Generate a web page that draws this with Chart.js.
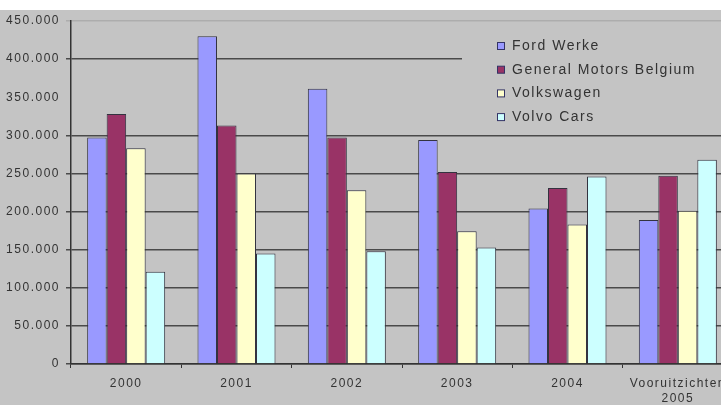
<!DOCTYPE html>
<html>
<head>
<meta charset="utf-8">
<script src="https://cdn.jsdelivr.net/npm/chart.js@4/dist/chart.umd.min.js"></script>
<style>
  html, body { margin: 0; padding: 0; background: #ffffff; overflow: hidden; }
  #wrap { width: 721px; height: 405px; overflow: hidden; position: relative; }
  canvas { display: block; }
</style>
</head>
<body>
<div id="wrap"><canvas id="c" width="736" height="405"></canvas></div>
<script>
// ---- data ----
const categories = ['2000', '2001', '2002', '2003', '2004', ['Vooruitzichten', '2005']];
const seriesNames = ['Ford Werke', 'General Motors Belgium', 'Volkswagen', 'Volvo Cars'];
const fordWerke = [297000, 430000, 361000, 294000, 204000, 189000];
const generalMotors = [328000, 313000, 297000, 252000, 231000, 247000];
const volkswagen = [283000, 250000, 228000, 174000, 183000, 201000];
const volvoCars = [121000, 145000, 148000, 153000, 246000, 268000];
const yTicks = [0, 50000, 100000, 150000, 200000, 250000, 300000, 350000, 400000, 450000];

// ---- styles ----
const colors = ['#9999ff', '#993366', '#ffffcc', '#ccffff'];
const BG = '#c4c4c4';
const TXT = '#333333';
const FONT = "'Liberation Sans', Arial, sans-serif";

function fmt(v) {
  return String(v).replace(/\B(?=(\d{3})+(?!\d))/g, '.');
}

const bgPlugin = {
  id: 'bgPlugin',
  beforeInit(chart) { chart.ctx.letterSpacing = '1.5px'; },
  beforeDraw(chart) {
    const ctx = chart.ctx;
    ctx.save();
    ctx.fillStyle = '#ffffff';
    ctx.fillRect(0, 0, chart.width, chart.height);
    ctx.fillStyle = BG;
    ctx.fillRect(0, 10, chart.width, chart.height - 10);
    ctx.restore();
    ctx.letterSpacing = '1.5px';
  }
};

const legendBox = {
  id: 'legendBox',
  beforeDatasetsDraw(chart) {
    const ctx = chart.ctx;
    const ca = chart.chartArea;
    ctx.save();
    ctx.fillStyle = BG;
    ctx.fillRect(462, ca.top + 1, chart.width - 462, 110);
    ctx.font = '14px ' + FONT;
    ctx.letterSpacing = '1.5px';
    ctx.textBaseline = 'middle';
    ctx.textAlign = 'left';
    chart.data.datasets.forEach((ds, i) => {
      const y = 46 + i * 23.7;
      ctx.fillStyle = ds.backgroundColor;
      ctx.fillRect(497.5, y - 3.5, 7, 7);
      ctx.strokeStyle = '#333366';
      ctx.lineWidth = 1;
      ctx.strokeRect(497.5, y - 3.5, 7, 7);
      ctx.fillStyle = TXT;
      ctx.fillText(ds.label, 512, y);
    });
    ctx.restore();
  }
};

const datasets = [fordWerke, generalMotors, volkswagen, volvoCars].map((arr, i) => ({
  label: seriesNames[i],
  data: arr,
  backgroundColor: colors[i],
  borderColor: '#333340',
  borderWidth: 1,
  categoryPercentage: 0.707,
  barPercentage: 1.0
}));

new Chart(document.getElementById('c'), {
  type: 'bar',
  data: { labels: categories, datasets: datasets },
  options: {
    responsive: false,
    animation: false,
    devicePixelRatio: 1,
    layout: { padding: { top: 21, left: 0, right: 3, bottom: 0 } },
    plugins: {
      legend: { display: false },
      tooltip: { enabled: false },
      title: { display: false }
    },
    scales: {
      x: {
        offset: true,
        grid: {
          display: true,
          drawOnChartArea: false,
          drawTicks: true,
          tickLength: 4,
          color: '#333333',
          lineWidth: 1,
          offset: true
        },
        border: { display: true, color: '#333333', width: 1.5 },
        ticks: {
          color: TXT,
          font: { family: FONT, size: 12, lineHeight: 1.25 },
          padding: 8,
          maxRotation: 0,
          autoSkip: false
        },
        afterFit(scale) { scale.height = 41; }
      },
      y: {
        min: 0,
        max: 450000,
        afterBuildTicks(scale) { scale.ticks = yTicks.map(v => ({ value: v })); },
        grid: {
          display: true,
          drawTicks: true,
          tickLength: 5,
          lineWidth: 1.5,
          color(ctx) {
            const v = ctx.tick ? ctx.tick.value : null;
            if (v === 350000) return 'rgba(0,0,0,0)';
            if (v === 450000) return '#adadad';
            return '#4a4a4a';
          }
        },
        border: { display: true, color: '#333333', width: 1.5 },
        ticks: {
          color: TXT,
          font: { family: FONT, size: 12 },
          padding: 6,
          callback: (v) => fmt(v)
        },
        afterFit(scale) { scale.width = 71; }
      }
    }
  },
  plugins: [bgPlugin, legendBox]
});
</script>
</body>
</html>
